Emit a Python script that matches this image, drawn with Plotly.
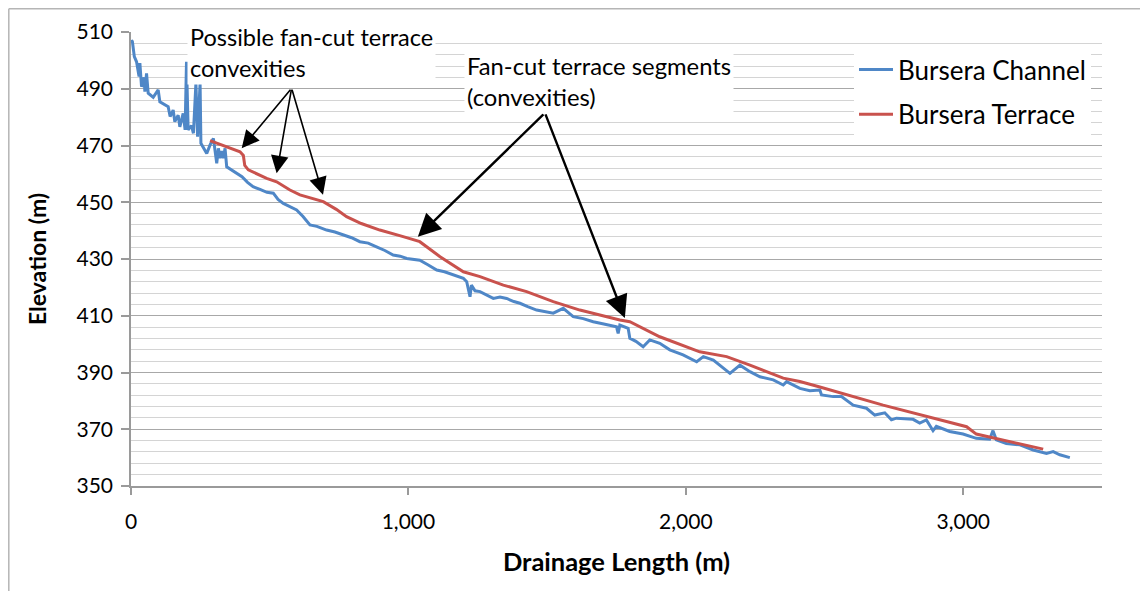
import plotly.graph_objects as go

# ---------------- data ----------------
channel_x = [0, 2, 5, 12, 20, 29, 32, 38, 47, 50, 56, 62, 80, 98, 104, 120, 134, 141, 152, 158,
             170, 176, 188, 195, 200, 206, 218, 225, 234, 240, 249, 252, 273, 285, 297, 309, 315,
             321, 327, 333, 339, 345, 370, 400, 420, 440, 465, 490, 513, 530, 549, 570, 597, 620,
             645, 670, 705, 735, 765, 795, 825, 855, 885, 915, 945, 970, 994, 1020, 1041, 1070,
             1102, 1130, 1162, 1198, 1210, 1222, 1227, 1240, 1258, 1280, 1306, 1330, 1354, 1380,
             1402, 1430, 1462, 1490, 1522, 1558, 1594, 1630, 1666, 1700, 1726, 1750, 1756, 1762,
             1792, 1798, 1820, 1846, 1870, 1906, 1942, 1990, 2039, 2063, 2099, 2159, 2195, 2231,
             2267, 2315, 2351, 2363, 2411, 2447, 2483, 2489, 2531, 2561, 2603, 2651, 2681, 2717,
             2741, 2759, 2819, 2843, 2867, 2891, 2903, 2951, 2999, 3047, 3095, 3107, 3119, 3155,
             3204, 3252, 3300, 3324, 3348, 3384]
channel_y = [506, 507, 506.6, 501.3, 499.5, 494.3, 499, 490.7, 494, 489, 495.4, 488.4, 487, 489.6,
             485.4, 484.5, 483.7, 480.2, 482.5, 478.4, 480.7, 476.6, 481.3, 475.5, 499.5, 475.5,
             477, 474.3, 492, 473.1, 492, 470.8, 467.2, 470.2, 472.5, 463.7, 469, 465.5, 468,
             465.5, 469, 462.5, 461, 459, 457, 455.5, 454.5, 453.5, 453.2, 451, 449.6, 448.5,
             447.3, 445, 442, 441.5, 440.2, 439.5, 438.5, 437.5, 436.1, 435.6, 434.3, 433, 431.4,
             431, 430.2, 429.8, 429.6, 428, 426.1, 425.5, 424.4, 423.2, 422, 416.7, 420.8, 418.8,
             418.5, 417.5, 416.1, 416.6, 416.1, 415, 414.4, 413.2, 412, 411.5, 410.9, 412.6, 409.7,
             409, 407.9, 407.2, 406.7, 406.1, 403.8, 406.7, 405.6, 402.1, 401, 399.1, 401.5, 400.3,
             398, 396.2, 393.8, 395.6, 394.4, 389.7, 392.6, 390.3, 388.5, 387.4, 385.6, 386.8,
             384.4, 383.6, 383.8, 382.1, 381.5, 381.5, 378.5, 377.4, 375, 375.8, 373.3, 373.9,
             373.5, 372.2, 373.3, 369.5, 371, 369.2, 368.3, 366.8, 366.5, 369.5, 366.3, 365,
             364.5, 362.7, 361.5, 362.1, 361, 360]

terrace_x = [285, 340, 393, 405, 410, 423, 452, 489, 525, 573, 609, 640, 693, 740, 777, 830, 897,
             981, 1041, 1114, 1198, 1258, 1342, 1426, 1522, 1618, 1702, 1762, 1798, 1906, 2050,
             2147, 2231, 2351, 2411, 2483, 2711, 3012, 3047, 3288]
terrace_y = [471.7, 469.8, 467.8, 466.5, 463, 461.4, 460.2, 458.4, 457.2, 454.3, 452.6, 451.8,
             450.2, 447.5, 444.9, 442.5, 440.2, 437.9, 436.1, 430.8, 425.5, 423.8, 420.8, 418.5,
             415, 412, 409.9, 408.5, 407.9, 402.6, 397.3, 395.6, 392.6, 388, 386.8, 384.9, 378.5,
             370.9, 368.3, 363]

x_tick_vals = [0, 1000, 2000, 3000]
x_tick_text = ["0", "1,000", "2,000", "3,000"]
y_tick_vals = [350, 370, 390, 410, 430, 450, 470, 490, 510]

# arrows: tail and tips in data units
arrows_possible_tail = (579, 490.2)
arrows_possible_tips = [(399, 469), (525, 460.2), (692, 452.6)]
arrows_segment_tail = (1492, 481.5)
arrows_segment_tips = [(1034, 437.8), (1780, 409.2)]

FONT = "Lato"
BLUE = "#4F87C7"
RED = "#C9524D"

# page body has an 8px margin: the figure is laid out in a 1140x583 box
W, H = 1140, 583
L, T = 123, 24          # plot-area left / top inside the figure
PW, PH = 971, 454        # plot-area width / height


def px(xp):   # reference pixel x -> paper
    return (xp - 8 - L) / PW


def py(yp):   # reference pixel y -> paper
    return (T + PH - (yp - 8)) / PH


fig = go.Figure()
fig.add_trace(go.Scatter(x=channel_x, y=channel_y, mode="lines", name="Bursera Channel",
                         line=dict(color=BLUE, width=3), legendgroup="a"))
fig.add_trace(go.Scatter(x=terrace_x, y=terrace_y, mode="lines", name="Bursera Terrace",
                         line=dict(color=RED, width=3), legendgroup="b"))

annotations = []
for tx, ty in arrows_possible_tips:
    annotations.append(dict(x=tx, y=ty, ax=arrows_possible_tail[0], ay=arrows_possible_tail[1],
                            xref="x", yref="y", axref="x", ayref="y", text="", showarrow=True,
                            arrowhead=2, arrowsize=2.2, arrowwidth=1.6, arrowcolor="black"))
for tx, ty in arrows_segment_tips:
    annotations.append(dict(x=tx, y=ty, ax=arrows_segment_tail[0], ay=arrows_segment_tail[1],
                            xref="x", yref="y", axref="x", ayref="y", text="", showarrow=True,
                            arrowhead=2, arrowsize=1.9, arrowwidth=2.4, arrowcolor="black"))

annotations.append(dict(x=px(187), y=py(20), xref="paper", yref="paper",
                        xanchor="left", yanchor="top", align="left", showarrow=False,
                        text="Possible fan-cut terrace<br>convexities",
                        font=dict(family=FONT, size=23.5, color="black"),
                        bgcolor="white", borderpad=2))
annotations.append(dict(x=px(464), y=py(49), xref="paper", yref="paper",
                        xanchor="left", yanchor="top", align="left", showarrow=False,
                        text="Fan-cut terrace segments<br>(convexities)",
                        font=dict(family=FONT, size=23.8, color="black"),
                        bgcolor="white", borderpad=2))

fig.update_layout(
    width=W, height=H,
    margin=dict(l=L, r=W - L - PW, t=T, b=H - T - PH, autoexpand=False),
    paper_bgcolor="white", plot_bgcolor="white",
    font=dict(family=FONT, size=21, color="black"),
    showlegend=True,
    legend=dict(x=px(854), y=py(46), xanchor="left", yanchor="top",
                bgcolor="white", font=dict(family=FONT, size=26, color="black"),
                tracegroupgap=8, itemwidth=34),
    annotations=annotations,
    shapes=[
        dict(type="line", xref="paper", yref="paper", x0=px(8.8), x1=px(8.8),
             y0=py(8.8), y1=py(620), line=dict(color="#B5B5B5", width=1.5)),
        dict(type="line", xref="paper", yref="paper", x0=px(8.8), x1=px(1170),
             y0=py(8.8), y1=py(8.8), line=dict(color="#B5B5B5", width=1.5)),
    ],
)

fig.update_xaxes(
    range=[0, 3500], tickvals=x_tick_vals, ticktext=x_tick_text,
    showgrid=False, zeroline=False, showline=True, linecolor="#9A9A9A", linewidth=1.5,
    ticks="outside", ticklen=7, tickcolor="#9A9A9A", tickwidth=1.5, ticklabelstandoff=9,
    tickfont=dict(family=FONT, size=21, color="black"),
    title=dict(text="<b>Drainage Length (m)</b>", font=dict(family=FONT, size=25.5, color="black"),
               standoff=21),
)
fig.update_yaxes(
    range=[350, 510], tickvals=y_tick_vals,
    showgrid=True, gridcolor="#A8A8A8", gridwidth=1.3, zeroline=False,
    showline=True, linecolor="#9A9A9A", linewidth=1.5,
    ticks="outside", ticklen=8, tickcolor="#9A9A9A", tickwidth=1.5, ticklabelstandoff=4,
    tickfont=dict(family=FONT, size=21, color="black"),
    minor=dict(dtick=4, tick0=350, showgrid=True, gridcolor="#D4D4D4", gridwidth=1.3, ticks=""),
    title=dict(text="<b>Elevation (m)</b>", font=dict(family=FONT, size=23, color="black"),
               standoff=23),
)

fig.write_html("out.html")
